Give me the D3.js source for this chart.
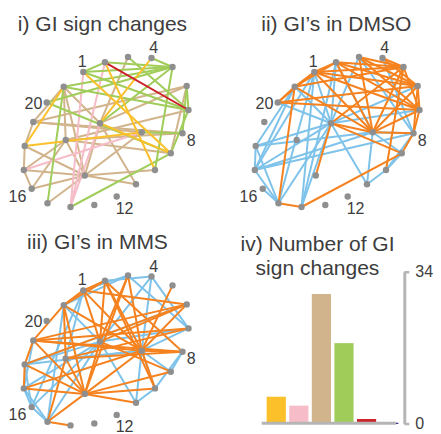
<!DOCTYPE html>
<html>
<head>
<meta charset="utf-8">
<script src="https://cdn.jsdelivr.net/npm/d3@7"></script>
<style>
  body { margin: 0; background: #fff; }
  svg { display: block; font-family: "Liberation Sans", Arial, Helvetica, sans-serif; }
</style>
</head>
<body>
<svg id="chart" width="441" height="434"></svg>
<script>
// ---- network layout: 25 genes, shared by the three network panels ----
const nodeIds = d3.range(1, 26);
const nodeX = [83.3, 105, 128, 151.5, 172.5, 186.7, 188.5, 182.5, 170.8, 155, 136, 116.7, 94.3,
               70.5, 47.5, 31.7, 23.8, 24.7, 33.3, 46.7, 63.7, 100, 65.7, 141.7, 84.8];
const nodeY = [72, 62.3, 57, 58, 67, 86, 110, 133.3, 153.3, 170, 184.3, 196.5, 205,
               207, 203.3, 188.7, 170, 146, 122, 102.5, 86.7, 123.2, 140, 132.3, 175.5];
const labelledNodes = [1, 4, 8, 12, 16, 20];

// ---- panel i: interactions whose sign changes, by class ----
const signClasses = ["yellow", "pink", "tan", "green", "red"];
const signEdges = {
  tan: ["3-22","6-22","6-19","7-23","6-9","19-8","19-24","23-8","21-19","21-22","21-23","21-25",
        "22-25","23-25","25-17","25-18","25-15","25-16","25-11","25-10","25-24","23-17","23-16",
        "18-19","17-18","16-17","22-11","24-8","23-9"],
  pink: ["1-14","2-14","17-24","22-14"],
  green: ["1-2","1-5","2-5","3-7","4-5","5-21","5-20","5-22","5-10","6-8","7-9","6-7","20-9",
          "21-15","9-14","1-7","21-7","8-24"],
  yellow: ["4-22","1-9","2-10","21-18","18-24","22-9"],
  red: ["2-7"]
};

// ---- panel ii: interactions in DMSO ----
const dmsoPositive = ["22-18","22-17","22-15","22-14","22-21","22-1","17-18","15-17","15-18","18-24",
  "17-24","17-8","1-17","1-15","21-17","21-18","22-11","24-11","24-8","24-9","3-8","4-8","20-22",
  "22-7","22-6","10-11","9-10","10-8","2-22","14-1","22-3","16-15","14-2","24-2"];
const dmsoNegative = ["20-21","21-1","1-2","21-2","20-1","20-6","1-7","1-24","2-24","2-6","2-7","3-24",
  "4-5","5-22","5-24","6-24","7-24","5-7","6-7","7-8","22-9","8-9","9-14","14-15","10-5","21-15",
  "22-25","1-5","2-5","3-6","4-6","21-24","20-7","3-7","1-6","8-24","6-8","22-24","3-5","21-5"];

// ---- panel iii: interactions in MMS ----
const mmsPositive = ["1-3","2-4","3-21","4-22","4-24","3-7","4-7","7-22","18-24","23-24","6-18",
  "17-16","16-15","18-16","17-15","19-17","17-22","18-22","16-22","15-22","15-21","16-1","10-24",
  "11-24","11-10","9-24","8-10","21-22","1-23","2-21","7-24","9-8","22-11"];
const mmsNegative = ["21-1","1-2","21-2","1-6","1-24","2-24","3-22","3-24","5-24","6-24","6-22","6-19",
  "21-24","19-24","19-8","24-8","25-18","25-17","25-15","25-11","25-10","25-9","25-23","25-22",
  "25-24","25-19","19-18","18-17","14-15","2-22","1-22","21-23","21-25","23-7","23-8","22-9",
  "18-6","17-24","3-25","2-10","15-23","19-21","24-10","7-19","2-8"];

// ---- panel iv: number of sign changes per class ----
const signChangeCounts = [6, 4, 29, 18, 1];
const countTicks = [0, 34];

// ---- styles ----
const classColor = {
  yellow: "#fbc02a", pink: "#f6bcc8", tan: "#d2b48c", green: "#a0cd5a", red: "#cc2229",
  pos: "#7fc3ea", neg: "#f5821f"
};
const nodeColor = "#8f8f8f";
const textColor = "#3d3d3d";

const labelPlacement = {
  1:  { dx: -1,   dy: -5,   anchor: "middle" },
  4:  { dx: 2.3,  dy: -4.7, anchor: "middle" },
  8:  { dx: 4.3,  dy: 12.6, anchor: "start" },
  12: { dx: -1,   dy: 17.5, anchor: "start" },
  16: { dx: -5.3, dy: 13,   anchor: "end" },
  20: { dx: -4.4, dy: 6.2,  anchor: "end" }
};

const svg = d3.select("#chart");
const nodes = nodeIds.map((id, i) => ({ id, x: nodeX[i], y: nodeY[i] }));
const byId = new Map(nodes.map(n => [n.id, n]));

function drawNetwork(offsetX, offsetY, title, titleX, layers) {
  const sx = d3.scaleLinear().domain([0, 200]).range([offsetX, offsetX + 200]);
  const sy = d3.scaleLinear().domain([0, 220]).range([offsetY, offsetY + 220]);
  const g = svg.append("g");

  g.append("text")
    .attr("x", titleX).attr("y", offsetY + 30.7)
    .attr("text-anchor", "middle")
    .attr("font-size", 21).attr("fill", textColor)
    .text(title);

  layers.forEach(([edges, color]) => {
    g.append("g").selectAll("line")
      .data(edges.map(e => e.split("-").map(Number)))
      .join("line")
      .attr("x1", d => sx(byId.get(d[0]).x)).attr("y1", d => sy(byId.get(d[0]).y))
      .attr("x2", d => sx(byId.get(d[1]).x)).attr("y2", d => sy(byId.get(d[1]).y))
      .attr("stroke", color).attr("stroke-width", 2).attr("stroke-linecap", "round");
  });

  g.append("g").selectAll("circle")
    .data(nodes).join("circle")
    .attr("cx", d => sx(d.x)).attr("cy", d => sy(d.y)).attr("r", 3.2)
    .attr("fill", nodeColor);

  g.append("g").selectAll("text")
    .data(labelledNodes.map(id => byId.get(id))).join("text")
    .attr("x", d => sx(d.x) + labelPlacement[d.id].dx)
    .attr("y", d => sy(d.y) + labelPlacement[d.id].dy)
    .attr("text-anchor", d => labelPlacement[d.id].anchor)
    .attr("font-size", 16).attr("fill", textColor)
    .text(d => d.id);
}

drawNetwork(0, 0, "i) GI sign changes", 102.5, [
  [signEdges.tan, classColor.tan],
  [signEdges.pink, classColor.pink],
  [signEdges.green, classColor.green],
  [signEdges.yellow, classColor.yellow],
  [signEdges.red, classColor.red]
]);
drawNetwork(231, 0, "ii) GI\u2019s in DMSO", 336.3, [
  [dmsoPositive, classColor.pos],
  [dmsoNegative, classColor.neg]
]);
drawNetwork(0, 218.4, "iii) GI\u2019s in MMS", 97.5, [
  [mmsPositive, classColor.pos],
  [mmsNegative, classColor.neg]
]);

// ---- panel iv: bar chart ----
const bars = svg.append("g");
bars.append("text")
  .attr("x", 317.5).attr("y", 250.7)
  .attr("text-anchor", "middle").attr("font-size", 21).attr("fill", textColor)
  .text("iv) Number of GI");
bars.append("text")
  .attr("x", 317.5).attr("y", 275)
  .attr("text-anchor", "middle").attr("font-size", 21).attr("fill", textColor)
  .text("sign changes");

const x = d3.scaleBand().domain(signClasses).range([264.4, 378.4])
  .paddingInner(0.15).paddingOuter(0.1);
const y = d3.scaleLinear().domain([0, 34]).range([423.5, 271.7]);

bars.append("g").selectAll("rect")
  .data(signClasses.map((c, i) => ({ c, v: signChangeCounts[i] })))
  .join("rect")
  .attr("x", d => x(d.c)).attr("width", x.bandwidth())
  .attr("y", d => y(d.v)).attr("height", d => y(0) - y(d.v))
  .attr("fill", d => classColor[d.c]);

// baseline under the bars
bars.append("line")
  .attr("x1", x.range()[0] - 2.7).attr("x2", x.range()[1] + 17.6)
  .attr("y1", 423.3).attr("y2", 423.3)
  .attr("stroke", "#b5b5b5").attr("stroke-width", 3);
bars.append("line")
  .attr("x1", x.range()[1] + 17.6).attr("x2", x.range()[1] + 20)
  .attr("y1", 423.3).attr("y2", 423.3)
  .attr("stroke", "#2a2a80").attr("stroke-width", 1.2);

const axis = bars.append("g")
  .attr("transform", "translate(404.3,0)")
  .call(d3.axisRight(y).tickValues(countTicks).tickSize(5).tickSizeOuter(0).tickPadding(6));
axis.select(".domain").attr("stroke", "#b5b5b5").attr("stroke-width", 3);
axis.selectAll(".tick line").attr("stroke", "#b5b5b5").attr("stroke-width", 2.5);
axis.selectAll(".tick text")
  .attr("font-size", 16).attr("fill", textColor)
  .attr("font-family", "\"Liberation Sans\", Arial, sans-serif");
</script>
</body>
</html>
